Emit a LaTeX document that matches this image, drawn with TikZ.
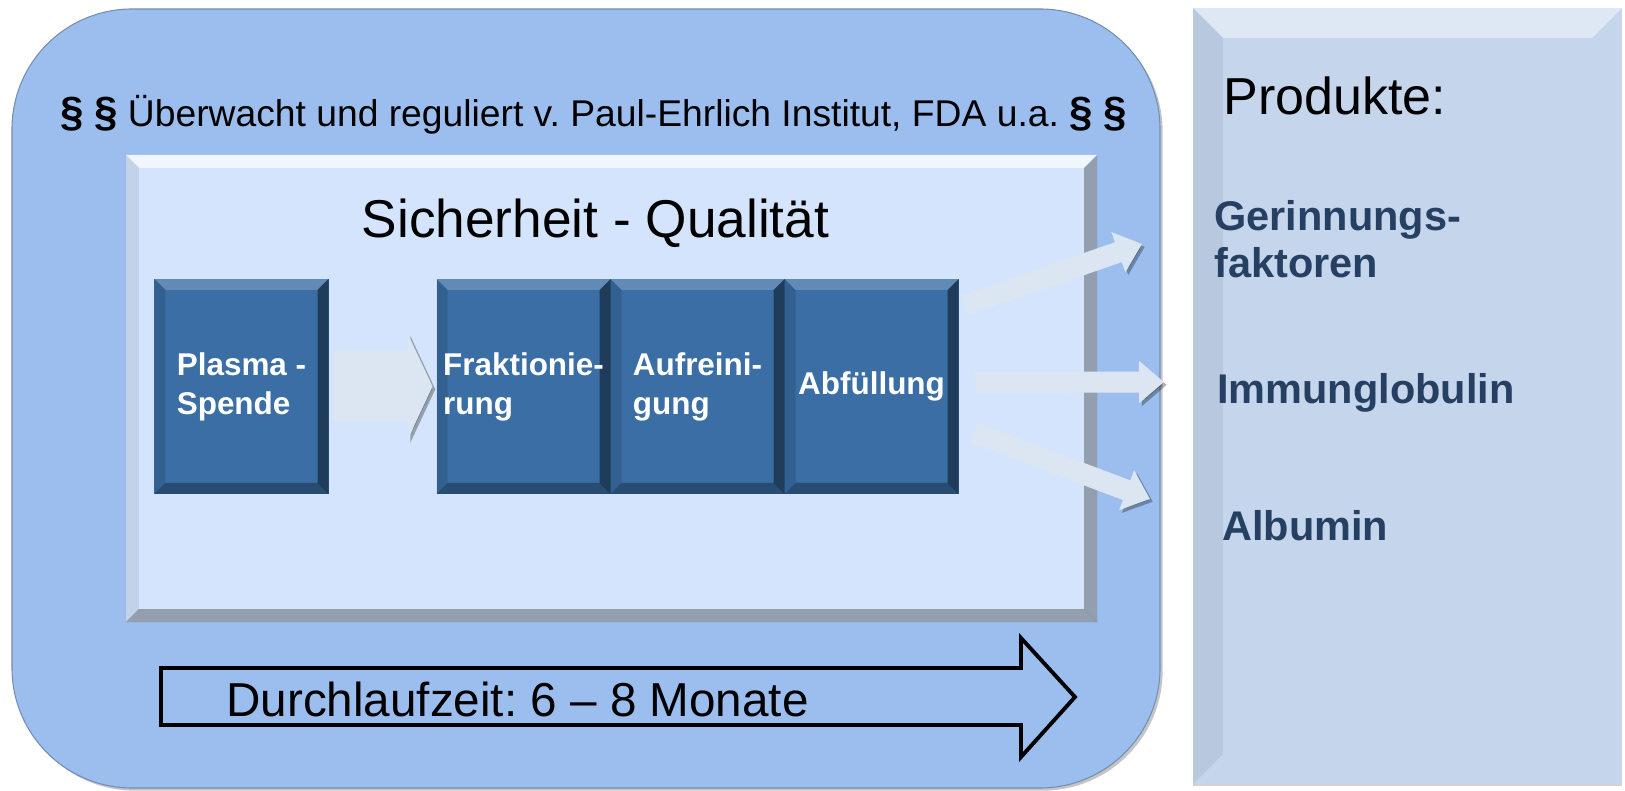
\documentclass[tikz,border=0pt]{standalone}
\usepackage{fontspec}
\setmainfont{Liberation Sans}
\usepackage{xcolor}
\usepackage{tikz}
\usetikzlibrary{arrows.meta, positioning, shadows}

\definecolor{frameblue}{RGB}{155,190,239}
\definecolor{paleblue}{RGB}{211,228,252}
\definecolor{stepblue}{RGB}{58,110,164}
\definecolor{panelblue}{RGB}{196,213,236}
\definecolor{flowgray}{RGB}{220,230,242}
\definecolor{prodtext}{RGB}{37,64,98}

\newcommand\lawsign{{\fontsize{24}{24}\selectfont\bfseries §}}

\tikzset{
  % size, top light, right dark, bottom dark, left dark
  bevel/.style n args={5}{path picture={
      \coordinate (bNW) at (path picture bounding box.north west);
      \coordinate (bNE) at (path picture bounding box.north east);
      \coordinate (bSW) at (path picture bounding box.south west);
      \coordinate (bSE) at (path picture bounding box.south east);
      \fill[white, opacity=#2] (bNW) -- (bNE) -- ([shift={(-#1,-#1)}]bNE)
           -- ([shift={(#1,-#1)}]bNW) -- cycle;
      \fill[black, opacity=#3] (bNE) -- (bSE) -- ([shift={(-#1,#1)}]bSE)
           -- ([shift={(-#1,-#1)}]bNE) -- cycle;
      \fill[black, opacity=#4] (bSW) -- (bSE) -- ([shift={(-#1,#1)}]bSE)
           -- ([shift={(#1,#1)}]bSW) -- cycle;
      \fill[black, opacity=#5] (bNW) -- (bSW) -- ([shift={(#1,#1)}]bSW)
           -- ([shift={(#1,-#1)}]bNW) -- cycle;
    }},
  regframe/.style={rectangle, rounded corners=24mm, fill=frameblue,
                   draw=frameblue!75!black, line width=0.6pt,
                   minimum width=229.6mm, minimum height=155.8mm,
                   drop shadow={shadow xshift=1.5pt, shadow yshift=-1.5pt, opacity=.45}},
  qualbox/.style={rectangle, fill=paleblue, minimum width=194.2mm,
                  minimum height=93.4mm, bevel={2.6mm}{.7}{.3}{.3}{.08}},
  prodpanel/.style={rectangle, fill=panelblue, minimum width=85.8mm,
                    minimum height=155.2mm, bevel={6mm}{.45}{0}{0}{.06},
                    drop shadow={shadow xshift=0pt, shadow yshift=-1.2pt, opacity=.35}},
  procbox/.style={rectangle, fill=stepblue, minimum width=34.8mm,
                  minimum height=43mm, inner sep=0pt, outer sep=0pt,
                  text=white, align=left,
                  font=\fontsize{17.9}{22.2}\selectfont\bfseries,
                  bevel={2.2mm}{.2}{.45}{.3}{.12}},
  flowshadow/.style={preaction={draw=black, opacity=.3,
                     transform canvas={shift={(1.6pt,-1.6pt)}}}},
  bigarrow/.style={draw=flowgray, line width=14mm, flowshadow,
                   -{Triangle[length=5mm, width=21.2mm]}},
  outarrow/.style={draw=flowgray, line width=4.2mm, flowshadow,
                   -{Triangle[length=5mm, width=8.2mm]}},
  timearrow/.style={fill=frameblue, draw=black, line width=2.2pt, line join=miter},
  plaintext/.style={inner sep=0pt, anchor=base west},
  prodname/.style={plaintext, align=left, text=prodtext,
                   font=\fontsize{23.6}{27.3}\selectfont\bfseries},
}

\begin{document}
\frenchspacing
\begin{tikzpicture}[x=0.2mm, y=-0.2mm, >=Stealth]
  \useasboundingbox[fill=white] (0,0) rectangle (1625,791);

  % frame, quality box and product panel
  \node[regframe]  (reg)   at (586,398.5)   {};
  \node[qualbox]   (quali) at (611.5,388.5) {};
  \node[prodpanel] (prod)  at (1407.5,396)  {};

  \node[plaintext, font=\fontsize{21.2}{25}\selectfont] (regtext) at (60,127)
    {\lawsign\ \lawsign\ Überwacht und reguliert v. Paul-Ehrlich Institut, FDA u.a.\ \lawsign\ \lawsign};
  \node[inner sep=0pt, anchor=base, font=\fontsize{30.3}{34}\selectfont] (sq) at (595.5,238)
    {Sicherheit - Qualität};

  % process steps
  \node[procbox] (plasma) at (241.5,386.5) {Plasma -\\Spende};
  \node[procbox, right=21.6mm of plasma] (frak) {Fraktionie-\\rung};
  \node[procbox, right=0pt of frak] (aufr) {Aufreini-\\gung};
  \node[procbox, right=0pt of aufr] (abf) {Abfüllung};

  \draw[bigarrow, shorten <=0.9mm, shorten >=0.8mm] (plasma) -- (frak);

  % products
  \node[plaintext, font=\fontsize{29.6}{34}\selectfont] (prodhead) at (1223,115) {Produkte:};
  \node[prodname] (gerin) at (1214,278) {Gerinnungs-\\faktoren};
  \node[prodname] (immun) at (1217,404) {Immunglobulin};
  \node[prodname] (album) at (1222,541) {Albumin};

  \coordinate (tipG) at (1142,244);
  \coordinate (tipI) at (1164,382);
  \coordinate (tipA) at (1150,499);
  \draw[outarrow] ([shift={(6,-81)}]abf.east) -- (tipG);
  \draw[outarrow] ([shift={(16,-4)}]abf.east)  -- (tipI);
  \draw[outarrow] ([shift={(15,46)}]abf.east)  -- (tipA);

  % throughput time
  \draw[timearrow] (161,668) -- (1021,668) -- (1021,638) -- (1075,697)
                   -- (1021,757) -- (1021,725) -- (161,725) -- cycle;
  \node[plaintext, font=\fontsize{27.1}{30}\selectfont] (zeit) at (226,717)
    {Durchlaufzeit: 6 – 8 Monate};
\end{tikzpicture}
\end{document}
